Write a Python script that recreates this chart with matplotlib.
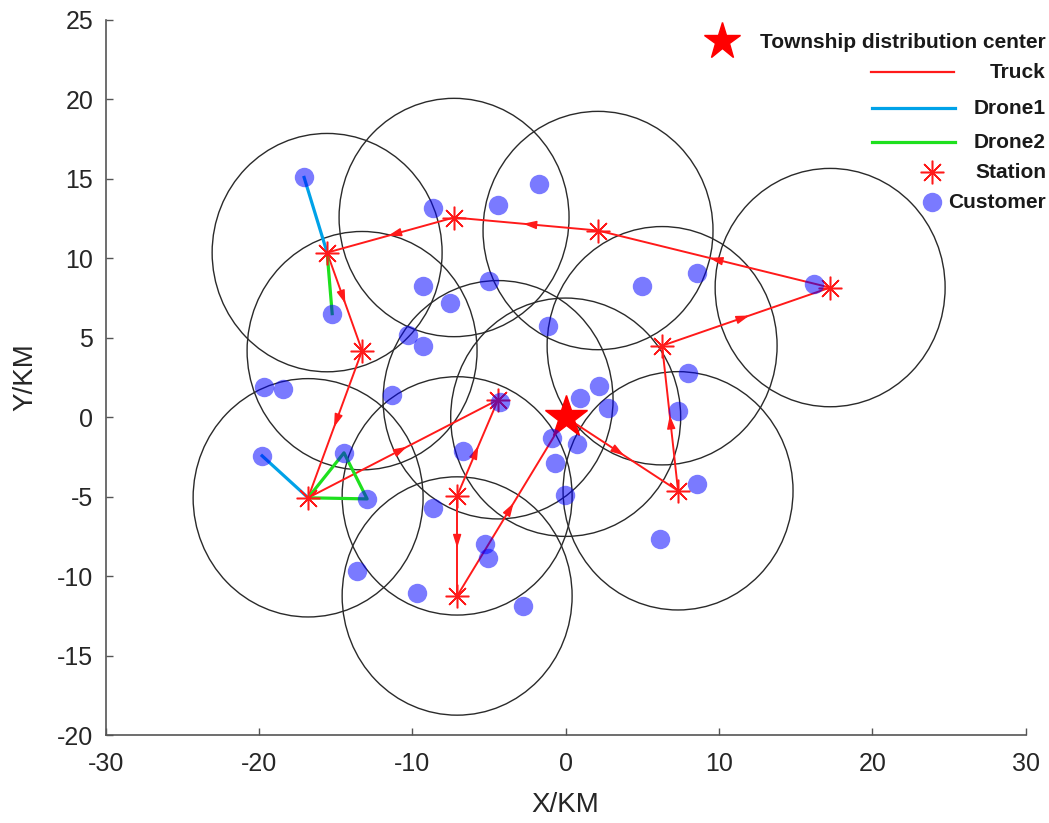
import numpy as np
import matplotlib
matplotlib.use("Agg")
import matplotlib.pyplot as plt
from matplotlib.patches import Circle
from matplotlib.lines import Line2D

plt.rcParams['font.family'] = ['Liberation Sans', 'DejaVu Sans']
plt.rcParams['axes.unicode_minus'] = False

# depot
depot = (0.0, 0.0)

# stations (truck stops)
station_x = [17.25, 2.11, -7.28, -15.56, -13.28, -16.80, -4.41, -7.08, -7.08, 7.33, 6.29]
station_y = [8.16, 11.75, 12.57, 10.36, 4.19, -5.07, 1.10, -4.95, -11.25, -4.63, 4.50]

# customers
cust_x = [-17.06, -8.65, -4.41, -1.74, -9.30, -7.54, -5.00, -15.23, -10.28, -9.30,
          -1.15, 4.98, 8.57, 16.20, -19.67, -18.43, -11.32, -4.28, 0.94, 2.18,
          2.77, 7.98, 7.33, -0.89, 0.74, -0.69, -0.04, 8.57, -14.46, -6.69,
          -19.80, -12.95, -8.65, -5.26, -5.06, -13.61, -9.69, -2.78, 6.16]
cust_y = [15.09, 13.14, 13.33, 14.65, 8.29, 7.22, 8.60, 6.52, 5.20, 4.50,
          5.77, 8.29, 9.10, 8.41, 1.92, 1.80, 1.42, 0.98, 1.23, 1.98,
          0.60, 2.80, 0.41, -1.29, -1.67, -2.87, -4.91, -4.19, -2.24, -2.11,
          -2.43, -5.14, -5.70, -7.96, -8.85, -9.67, -11.06, -11.85, -7.66]

radius = 7.5

# truck legs as (from, to); index -1 = depot
truck_legs = [(-1, 9), (9, 10), (10, 0), (0, 1), (1, 2), (2, 3), (3, 4),
              (4, 5), (5, 6), (7, 6), (7, 8), (8, -1)]

# drone routes
drone1_routes = [[(-15.56, 10.36), (-17.06, 15.09)],
                 [(-16.80, -5.07), (-19.80, -2.43)]]
drone2_routes = [[(-15.56, 10.36), (-15.23, 6.52)],
                 [(-16.80, -5.07), (-14.46, -2.24), (-12.95, -5.14), (-16.80, -5.07)]]

red = '#FF1A1A'
blue1 = '#00A2E8'
green2 = '#1EE01E'

fig = plt.figure(figsize=(10.49, 8.23), dpi=100)
ax = fig.add_axes([0.1008, 0.1069, 0.8769, 0.8688])

# coverage circles around depot and stations
centers = [depot] + list(zip(station_x, station_y))
for cx, cy in centers:
    ax.add_patch(Circle((cx, cy), radius, fill=False, ec='#2a2a2a', lw=1.0, zorder=1))


def pt(i):
    if i == -1:
        return depot
    return (station_x[i], station_y[i])


for a, b in truck_legs:
    p, q = np.array(pt(a)), np.array(pt(b))
    ax.plot([p[0], q[0]], [p[1], q[1]], color=red, lw=1.4, zorder=3)
    mid = (p + q) / 2
    d = (q - p) * 0.02
    ax.annotate('', xy=mid + d, xytext=mid - d,
                arrowprops=dict(arrowstyle='-|>,head_length=0.8,head_width=0.25',
                                color=red, lw=1.0, mutation_scale=10,
                                shrinkA=0, shrinkB=0), zorder=3)

for r in drone1_routes:
    xs, ys = zip(*r)
    ax.plot(xs, ys, color=blue1, lw=2.3, zorder=3)
for r in drone2_routes:
    xs, ys = zip(*r)
    ax.plot(xs, ys, color=green2, lw=2.3, zorder=3)

ax.plot(station_x, station_y, ls='none', marker=(8, 2, 0), ms=17, mec=red, mew=1.1, zorder=4)
ax.plot(*depot, ls='none', marker='*', ms=32, color='#FF0000', zorder=4)
ax.plot(cust_x, cust_y, ls='none', marker='o', ms=14, color='#0000FF', alpha=0.52,
        mec='none', zorder=5)

ax.set_xlim(-30, 30)
ax.set_ylim(-20, 25)
ax.set_xticks(np.arange(-30, 31, 10))
ax.set_yticks(np.arange(-20, 26, 5))
for s in ['top', 'right']:
    ax.spines[s].set_visible(False)
for s in ['left', 'bottom']:
    ax.spines[s].set_color('#555555')
    ax.spines[s].set_linewidth(1.2)
ax.tick_params(axis='both', direction='in', length=5, width=1.0, color='#555555',
               labelsize=18, labelcolor='#262626')
ax.tick_params(axis='x', pad=12)
ax.tick_params(axis='y', pad=9)

ax.set_xlabel('X/KM', fontsize=20, color='#262626')
ax.set_ylabel('Y/KM', fontsize=20, color='#262626')
ax.xaxis.set_label_coords(0.5, -0.080)
ax.yaxis.set_label_coords(-0.073, 0.5)

# legend drawn by hand (right-aligned rows)
W, H = 1049.0, 823.0


def fx(px):
    return px / W


def fy(py):
    return 1 - py / H


tx = fx(1046)
lf = dict(fontsize=15, fontweight='bold', color='#1a1a1a', ha='right', va='center')
fig.add_artist(Line2D([fx(722)], [fy(41)], marker='*', ms=28, color='#FF0000', ls='none'))
fig.text(tx, fy(42), 'Township distribution center', **lf)
fig.add_artist(Line2D([fx(871), fx(954)], [fy(72), fy(72)], color=red, lw=1.6))
fig.text(tx, fy(73), 'Truck', **lf)
fig.add_artist(Line2D([fx(872), fx(955)], [fy(108), fy(108)], color=blue1, lw=2.3))
fig.text(tx, fy(108), 'Drone1', **lf)
fig.add_artist(Line2D([fx(872), fx(955)], [fy(142), fy(142)], color=green2, lw=2.3))
fig.text(tx, fy(142), 'Drone2', **lf)
fig.add_artist(Line2D([fx(932)], [fy(172)], marker=(8, 2, 0), ms=17, mec=red, mew=1.1, ls='none'))
fig.text(tx, fy(172), 'Station', **lf)
fig.add_artist(Line2D([fx(932)], [fy(202)], marker='o', ms=14, color='#0000FF', alpha=0.52,
                      mec='none', ls='none'))
fig.text(tx, fy(202), 'Customer', **lf)

fig.savefig('out.png', dpi=100)
